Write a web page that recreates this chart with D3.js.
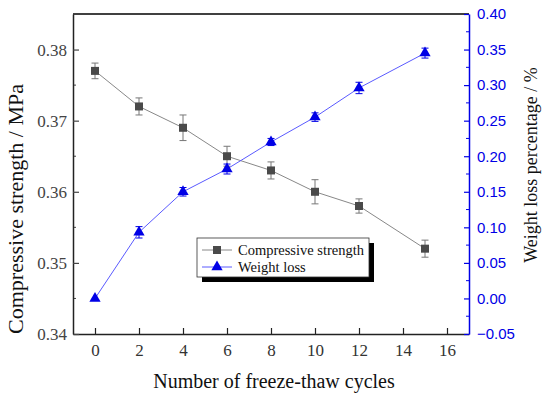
<!DOCTYPE html>
<html>
<head>
<meta charset="utf-8">
<script src="https://cdn.jsdelivr.net/npm/d3@7"></script>
<style>
  body { margin: 0; background: #fff; }
  svg { display: block; }
</style>
</head>
<body>
<div id="chart"></div>
<script>
// Data
var cycles = [0, 2, 4, 6, 8, 10, 12, 15];
var strength = [0.377, 0.372, 0.369, 0.365, 0.363, 0.360, 0.358, 0.352];
var strengthErr = [0.0011, 0.0012, 0.0018, 0.0014, 0.0012, 0.0017, 0.0010, 0.0012];
var weightLoss = [0.000, 0.093, 0.150, 0.182, 0.220, 0.255, 0.296, 0.345];
var weightErr = [0.000, 0.008, 0.006, 0.007, 0.005, 0.006, 0.008, 0.007];
var xTicks = [0, 2, 4, 6, 8, 10, 12, 14, 16];
var leftTicks = [0.34, 0.35, 0.36, 0.37, 0.38];
var rightTicks = [-0.05, 0.00, 0.05, 0.10, 0.15, 0.20, 0.25, 0.30, 0.35, 0.40];

var W = 550, H = 399;
var margin = { top: 14, right: 81, bottom: 65, left: 73 },
    width = W - margin.left - margin.right,
    height = H - margin.top - margin.bottom;

var svg = d3.select("#chart").append("svg")
    .attr("width", W).attr("height", H);

var g = svg.append("g")
    .attr("transform", "translate(" + margin.left + "," + margin.top + ")");

var x = d3.scaleLinear().domain([-1, 17]).range([0, width]);
var yL = d3.scaleLinear().domain([0.34, 0.385]).range([height, 0]);
var yR = d3.scaleLinear().domain([-0.05, 0.40]).range([height, 0]);

var blue = "#0000e6";
var serif = "'Liberation Serif', 'Times New Roman', serif";
var sans = "'Liberation Sans', Arial, sans-serif";

// top frame
g.append("line").attr("x1", 0).attr("x2", width).attr("y1", 0).attr("y2", 0)
    .attr("stroke", "#000").attr("stroke-width", 1.5);

// x axis (ticks pointing inward)
var xAxis = g.append("g").attr("transform", "translate(0," + height + ")")
    .call(d3.axisBottom(x).tickValues(xTicks).tickSizeInner(-6).tickSizeOuter(0).tickPadding(10)
        .tickFormat(d3.format("d")));
xAxis.select(".domain").attr("stroke", "#222").attr("stroke-width", 1.5);
xAxis.selectAll(".tick line").attr("stroke", "#222").attr("stroke-width", 1.2);
xAxis.selectAll("text").style("font-family", serif).style("font-size", "17px").attr("fill", "#333");

// left axis (inward ticks)
var leftMinor = d3.range(0.345, 0.385, 0.01);
g.selectAll(".lminor").data(leftMinor).enter().append("line")
    .attr("x1", 0).attr("x2", 3)
    .attr("y1", d => yL(d)).attr("y2", d => yL(d))
    .attr("stroke", "#444");
var lAxis = g.append("g")
    .call(d3.axisLeft(yL).tickValues(leftTicks).tickSizeInner(-6).tickSizeOuter(0).tickPadding(6)
        .tickFormat(d3.format(".2f")));
lAxis.select(".domain").attr("stroke", "#222").attr("stroke-width", 1.5);
lAxis.selectAll(".tick line").attr("stroke", "#444").attr("stroke-width", 1.2);
lAxis.selectAll("text").style("font-family", serif).style("font-size", "17px").attr("fill", "#444");

// right axis (inward ticks)
var rightMinor = d3.range(-0.025, 0.40, 0.05);
g.selectAll(".rminor").data(rightMinor).enter().append("line")
    .attr("x1", width - 3).attr("x2", width)
    .attr("y1", d => yR(d)).attr("y2", d => yR(d))
    .attr("stroke", blue);
var rAxis = g.append("g").attr("transform", "translate(" + width + ",0)")
    .call(d3.axisRight(yR).tickValues(rightTicks).tickSizeInner(-5).tickSizeOuter(0).tickPadding(8)
        .tickFormat(d => d < 0 ? "\u2212" + d3.format(".2f")(-d) : d3.format(".2f")(d)));
rAxis.select(".domain").attr("stroke", blue).attr("stroke-width", 1.5);
rAxis.selectAll(".tick line").attr("stroke", blue).attr("stroke-width", 1.2);
rAxis.selectAll("text").style("font-family", sans).style("font-size", "15px").attr("fill", blue);

// axis titles
svg.append("text").attr("x", 274).attr("y", 388)
    .attr("text-anchor", "middle").style("font-family", serif).style("font-size", "20px")
    .attr("fill", "#111").text("Number of freeze-thaw cycles");
svg.append("text").attr("transform", "translate(23,209) rotate(-90)")
    .attr("text-anchor", "middle").style("font-family", serif).style("font-size", "22px")
    .attr("fill", "#111").text("Compressive strength / MPa");
svg.append("text").attr("transform", "translate(537,165) rotate(-90)")
    .attr("text-anchor", "middle").style("font-family", serif).style("font-size", "18px")
    .attr("fill", "#111").text("Weight loss percentage / %");

// series
var sData = cycles.map((c, i) => ({ x: c, y: strength[i], e: strengthErr[i] }));
var wData = cycles.map((c, i) => ({ x: c, y: weightLoss[i], e: weightErr[i] }));

function drawErr(data, yScale, color) {
    var eg = g.append("g").attr("stroke", color).attr("stroke-width", 1);
    data.filter(d => d.e > 0).forEach(function(d) {
        var cx = x(d.x), y0 = yScale(d.y - d.e), y1 = yScale(d.y + d.e);
        eg.append("line").attr("x1", cx).attr("x2", cx).attr("y1", y0).attr("y2", y1);
        eg.append("line").attr("x1", cx - 3.5).attr("x2", cx + 3.5).attr("y1", y0).attr("y2", y0);
        eg.append("line").attr("x1", cx - 3.5).attr("x2", cx + 3.5).attr("y1", y1).attr("y2", y1);
    });
}

drawErr(sData, yL, "#777");
g.append("path").datum(sData)
    .attr("d", d3.line().x(d => x(d.x)).y(d => yL(d.y)))
    .attr("fill", "none").attr("stroke", "#888").attr("stroke-width", 1);
g.selectAll(".sq").data(sData).enter().append("rect")
    .attr("x", d => x(d.x) - 4).attr("y", d => yL(d.y) - 4)
    .attr("width", 8).attr("height", 8).attr("fill", "#4a4a4a");

drawErr(wData, yR, blue);
g.append("path").datum(wData)
    .attr("d", d3.line().x(d => x(d.x)).y(d => yR(d.y)))
    .attr("fill", "none").attr("stroke", "#5a5aff").attr("stroke-width", 1);
g.selectAll(".tri").data(wData).enter().append("path")
    .attr("transform", d => "translate(" + x(d.x) + "," + yR(d.y) + ")")
    .attr("d", d3.symbol().type(d3.symbolTriangle).size(55))
    .attr("fill", blue);

// legend
var lg = svg.append("g").attr("transform", "translate(197,238)");
lg.append("rect").attr("x", 5).attr("y", 5).attr("width", 172).attr("height", 39).attr("fill", "#000");
lg.append("rect").attr("x", 0).attr("y", 0).attr("width", 172).attr("height", 39)
    .attr("fill", "#fff").attr("stroke", "#333").attr("stroke-width", 0.8);
var items = [
    { label: "Compressive strength", color: "#888", marker: "sq" },
    { label: "Weight loss", color: "#5a5aff", marker: "tri" }
];
items.forEach(function(it, i) {
    var yy = 12 + i * 17;
    lg.append("line").attr("x1", 5).attr("x2", 35).attr("y1", yy).attr("y2", yy)
        .attr("stroke", it.color).attr("stroke-width", 1);
    if (it.marker === "sq") {
        lg.append("rect").attr("x", 16).attr("y", yy - 4).attr("width", 8).attr("height", 8).attr("fill", "#4a4a4a");
    } else {
        lg.append("path").attr("transform", "translate(20," + yy + ")")
            .attr("d", d3.symbol().type(d3.symbolTriangle).size(55)).attr("fill", blue);
    }
    lg.append("text").attr("x", 41).attr("y", yy + 5).style("font-family", serif).style("font-size", "14.5px")
        .attr("fill", "#111").text(it.label);
});
</script>
</body>
</html>
